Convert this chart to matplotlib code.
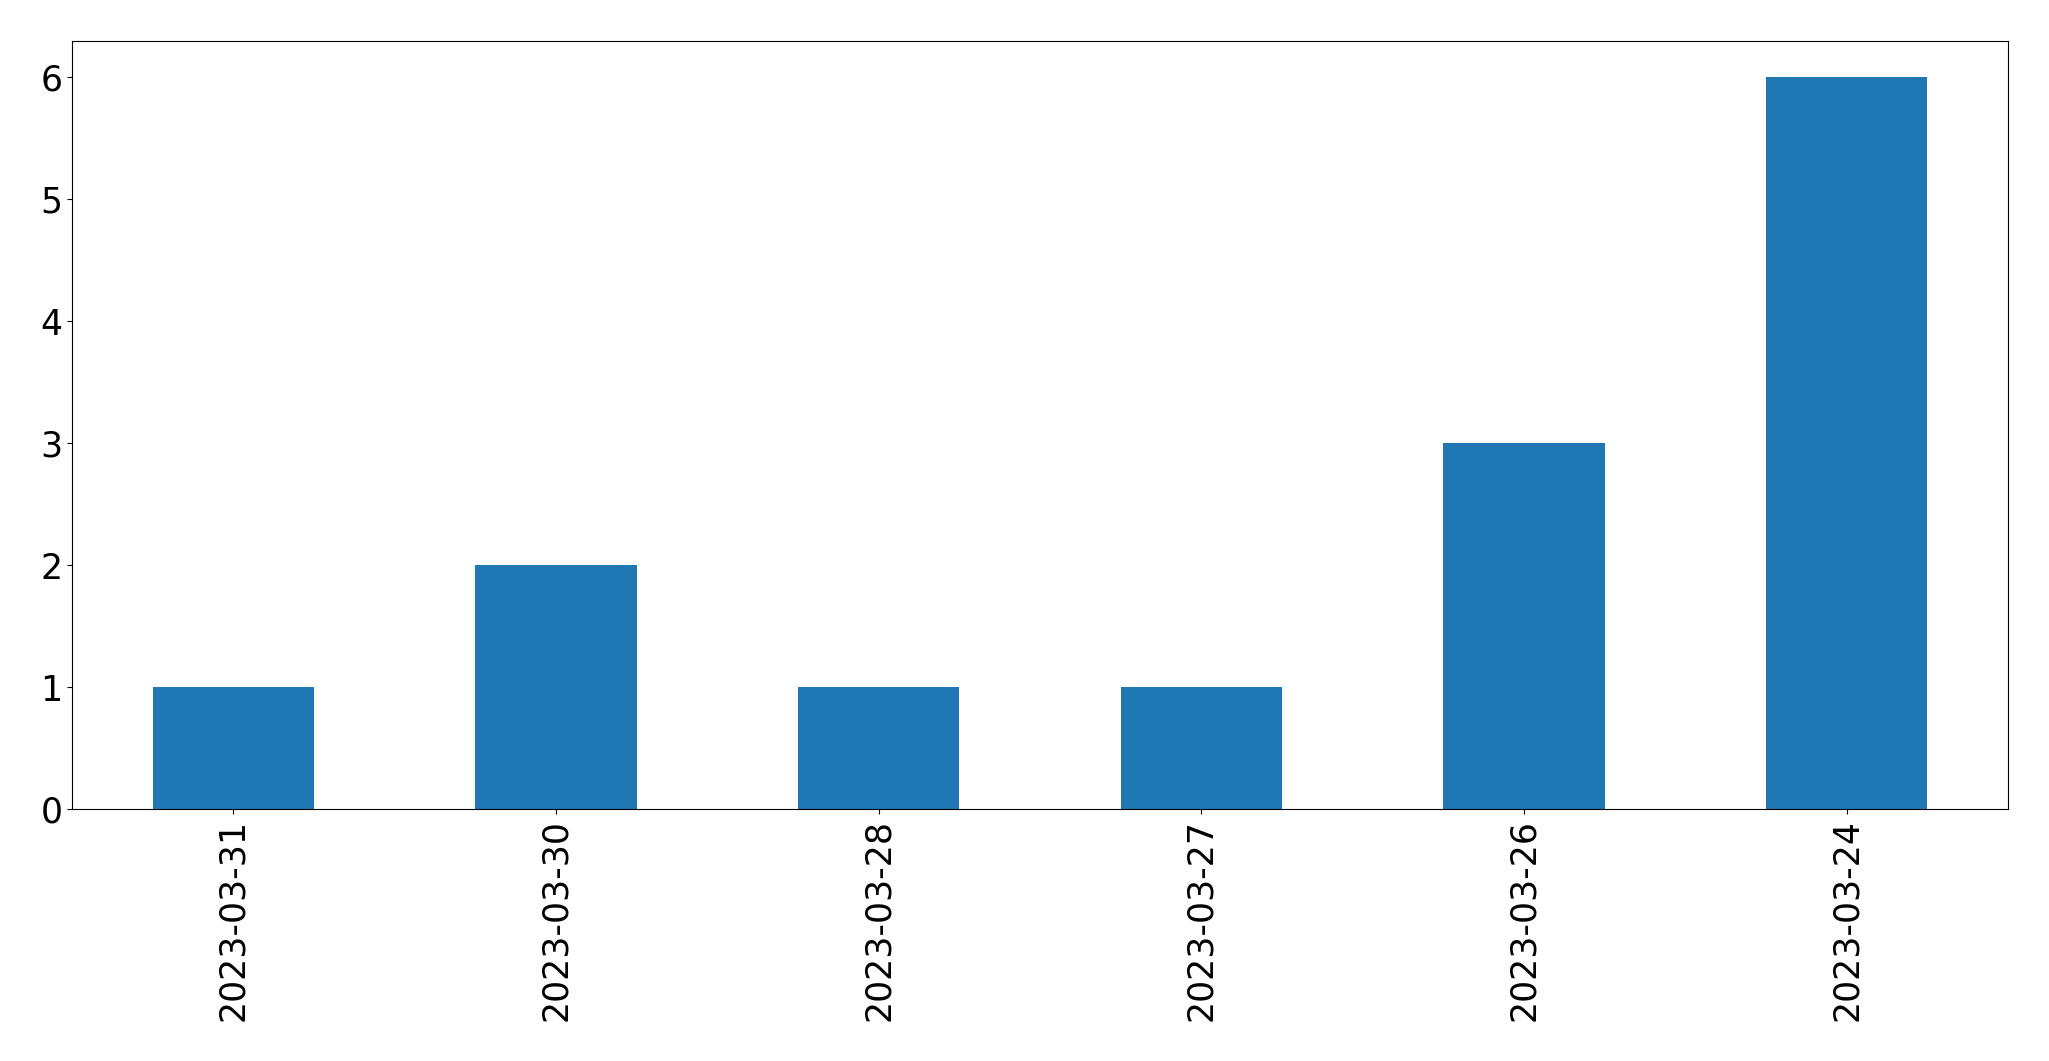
import matplotlib
matplotlib.use("Agg")
import matplotlib.pyplot as plt

dates = ["2023-03-31", "2023-03-30", "2023-03-28", "2023-03-27", "2023-03-26", "2023-03-24"]
counts = [1, 2, 1, 1, 3, 6]

plt.rcParams.update({"font.size": 25})

fig = plt.figure(figsize=(20.49, 10.61), dpi=100)
ax = fig.add_axes([72 / 2049, 1 - 809 / 1061, (2008 - 72) / 2049, (809 - 40.5) / 1061])
x = list(range(len(dates)))
ax.bar(x, counts, width=0.5, color="#1f77b4")
ax.set_xlim(-0.5, len(dates) - 0.5)
ax.set_xticks(x)
ax.set_xticklabels(dates, rotation=90)
ax.tick_params(labelsize=25)
fig.savefig("out.png", dpi=100)
